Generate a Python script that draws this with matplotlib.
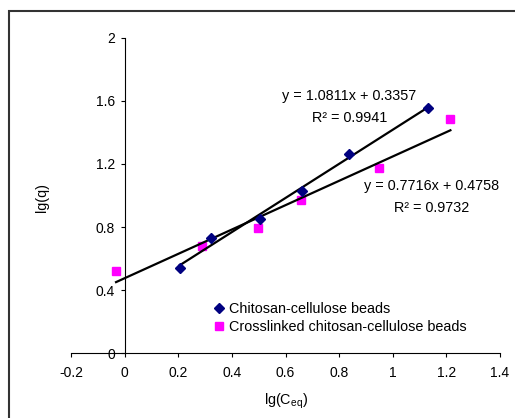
import matplotlib
matplotlib.use('Agg')
import matplotlib.pyplot as plt
import numpy as np
from matplotlib.patches import Rectangle

# Global
plt.rcParams['font.family'] = 'Liberation Sans'
plt.rcParams['font.size'] = 10.4
plt.rcParams['mathtext.default'] = 'regular'

# Data
x_cc = [0.205, 0.323, 0.504, 0.662, 0.836, 1.132]
y_cc = [0.542, 0.730, 0.849, 1.026, 1.261, 1.556]
x_xl = [-0.032, 0.289, 0.499, 0.659, 0.950, 1.215]
y_xl = [0.521, 0.679, 0.792, 0.971, 1.177, 1.484]
fit_cc = [1.0811, 0.3357]
fit_xl = [0.7716, 0.4758]
label_cc = 'Chitosan-cellulose beads'
label_xl = 'Crosslinked chitosan-cellulose beads'
eq_cc = ['y = 1.0811x + 0.3357', 'R\u00b2 = 0.9941']
eq_xl = ['y = 0.7716x + 0.4758', 'R\u00b2 = 0.9732']
xticks = [-0.2, 0, 0.2, 0.4, 0.6, 0.8, 1, 1.2, 1.4]
xticklabels = ['-0.2', '0', '0.2', '0.4', '0.6', '0.8', '1', '1.2', '1.4']
yticks = [0, 0.4, 0.8, 1.2, 1.6, 2]
yticklabels = ['0', '0.4', '0.8', '1.2', '1.6', '2']

W, H = 515, 418
fig = plt.figure(figsize=(W / 100, H / 100), dpi=100)
ax = fig.add_axes([71 / W, 1 - 353.3 / H, 429 / W, 315.6 / H])

# trendlines over the data range
xs = np.array([min(x_cc), max(x_cc)])
ax.plot(xs, fit_cc[0] * xs + fit_cc[1], color='black', lw=1.6, zorder=3)
xs = np.array([min(x_xl), max(x_xl)])
ax.plot(xs, fit_xl[0] * xs + fit_xl[1], color='black', lw=1.6, zorder=3)

# points
ax.plot(x_cc, y_cc, linestyle='none', marker='D', markersize=5, color='#000080',
        label=label_cc, zorder=4)
ax.plot(x_xl, y_xl, linestyle='none', marker='s', markersize=5.5, color='#FF00FF',
        label=label_xl, zorder=2)

# axis
ax.set_xlim(-0.2, 1.4)
ax.set_ylim(0, 2)
ax.set_xticks(xticks, xticklabels)
ax.set_yticks(yticks, yticklabels)
ax.spines['top'].set_visible(False)
ax.spines['right'].set_visible(False)
ax.spines['left'].set_position(('data', 0))
ax.tick_params(direction='out', length=3, width=0.8, pad=6, labelsize=10)
ax.tick_params(axis='y', pad=4)
ax.patch.set_alpha(0)

# equations
ax.text(0.838, 1.630, eq_cc[0], ha='center', va='center')
ax.text(0.838, 1.491, eq_cc[1], ha='center', va='center')
ax.text(1.144, 1.060, eq_xl[0], ha='center', va='center')
ax.text(1.144, 0.921, eq_xl[1], ha='center', va='center')

# labels
fig.text(42 / W, 1 - 197 / H, 'lg(q)', rotation=90, ha='center', va='center')
fig.text(286 / W, 1 - 401 / H, 'lg(C$_{eq}$)', ha='center', va='center')

ax.legend(loc='upper left', bbox_to_anchor=(213 / W, 1 - 302 / H),
          bbox_transform=fig.transFigure, frameon=False, numpoints=1,
          handlelength=0.8, handletextpad=0.3, labelspacing=0.3,
          borderpad=0, borderaxespad=0)

# outer chart frame
fig.patches.append(Rectangle((9 / W, -0.1), 1.2, (H - 11) / H + 0.1,
                             transform=fig.transFigure, fill=False,
                             lw=1.5, ec='#333333'))

fig.savefig('out.png', dpi=100)
